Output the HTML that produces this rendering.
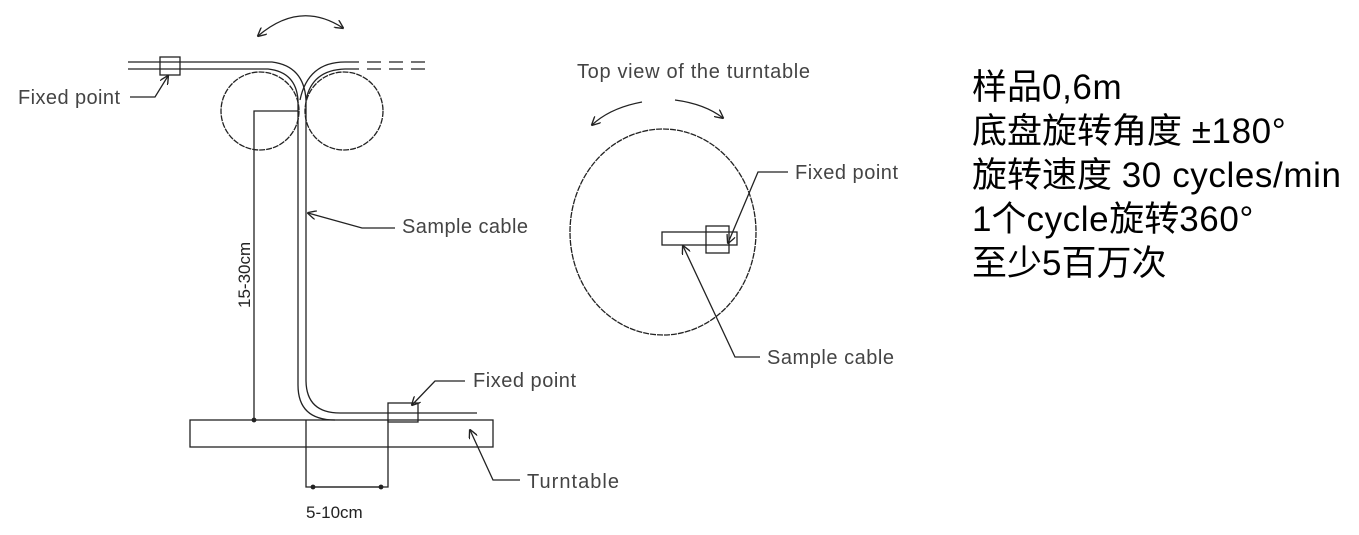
<!DOCTYPE html>
<html><head><meta charset="utf-8"><style>
body{margin:0;background:#fff;width:1359px;height:535px;overflow:hidden;position:relative}
svg{position:absolute;left:0;top:0}
.t{position:absolute;left:972px;font-family:"Liberation Sans","Noto Sans CJK SC",sans-serif;font-size:35px;color:#000;line-height:44px;top:66px;white-space:nowrap}
.l{letter-spacing:0.6px}
</style></head><body>
<svg width="1359" height="535" viewBox="0 0 1359 535" font-family="Liberation Sans, sans-serif" fill="none" stroke="#222" stroke-width="1.3">
<defs><marker id="a" viewBox="0 0 10 10" refX="9" refY="5" markerWidth="7" markerHeight="7" orient="auto-start-reverse"><path d="M0,0 L10,5 L0,10" fill="none" stroke="#222" stroke-width="1.5"/></marker>
<marker id="d" viewBox="0 0 10 10" refX="5" refY="5" markerWidth="4" markerHeight="4"><circle cx="5" cy="5" r="4" fill="#222"/></marker></defs>
<path d="M258,36 Q300,0 343,28" marker-start="url(#a)" marker-end="url(#a)"/>
<circle cx="260" cy="111" r="39" stroke-dasharray="6,1"/>
<circle cx="344" cy="111" r="39" stroke-dasharray="6,1"/>
<path d="M128,62 L272,62 Q304,66 306,100 L306,380 Q306,413 340,413 L477,413"/>
<path d="M128,69 L268,69 Q296,72 298,100 L298,385 Q298,420 335,420"/>
<path d="M345,62 Q308,62 300,100 M345,69 Q312,70 306,100"/>
<path d="M345,62 L427,62 M345,69 L427,69" stroke-dasharray="14,8"/>
<rect x="160" y="57" width="20" height="18"/>
<rect x="190" y="420" width="303" height="27"/>
<rect x="388" y="403" width="30" height="19"/>
<path d="M298,111 L254,111 L254,420" marker-end="url(#d)"/>
<path d="M306,420 L306,487 L388,487 L388,420"/>
<path d="M313,487 L381,487" marker-start="url(#d)" marker-end="url(#d)"/>
<path d="M130,97 L155,97 L168,76" marker-end="url(#a)"/>
<path d="M395,228 L362,228 L308,213" marker-end="url(#a)"/>
<path d="M465,381 L435,381 L412,405" marker-end="url(#a)"/>
<path d="M520,480 L493,480 L470,430" marker-end="url(#a)"/>
<ellipse cx="663" cy="232" rx="93" ry="103" stroke-dasharray="6,1"/>
<path d="M642,102 Q610,108 592,125" marker-end="url(#a)"/>
<path d="M675,100 Q705,104 723,118" marker-end="url(#a)"/>
<rect x="662" y="232" width="75" height="13"/>
<rect x="706" y="226" width="23" height="27"/>
<path d="M788,172 L758,172 L728,243" marker-end="url(#a)"/>
<path d="M760,357 L735,357 L683,246" marker-end="url(#a)"/>
<g fill="#444" stroke="none" font-size="20">
<text x="18" y="104" textLength="102">Fixed point</text>
<text x="402" y="233" textLength="126">Sample cable</text>
<text x="473" y="387" textLength="103">Fixed point</text>
<text x="527" y="488" textLength="92">Turntable</text>
<text x="577" y="78" textLength="233">Top view of the turntable</text>
<text x="795" y="179" textLength="103">Fixed point</text>
<text x="767" y="364" textLength="127">Sample cable</text>
<text x="306" y="518" font-size="17" fill="#222">5-10cm</text>
<text transform="translate(250,308) rotate(-90)" font-size="17" fill="#222">15-30cm</text>
</g>
</svg>
<div class="t">样品<span class="l">0,6m</span><br>底盘旋转角度 <span class="l">±180°</span><br>旋转速度 <span class="l">30 cycles/min</span><br>1个<span class="l">cycle</span>旋转<span class="l">360°</span><br>至少5百万次</div>
</body></html>
